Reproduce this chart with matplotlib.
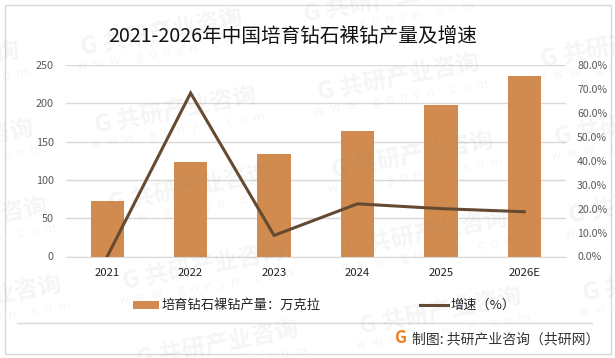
#!/usr/bin/env python3
import matplotlib
matplotlib.use("Agg")
import matplotlib.pyplot as plt
from matplotlib.patches import Rectangle
from matplotlib.lines import Line2D

plt.rcParams["font.family"] = ["Noto Sans CJK SC", "DejaVu Sans"]

W, H = 615, 358

categories = ["2021", "2022", "2023", "2024", "2025", "2026E"]
output_values = [72, 123, 133.5, 164, 198, 236]
growth_values = [0.0, 68.3, 8.8, 22.0, 20.0, 18.7]
left_ticks = [0, 50, 100, 150, 200, 250]
right_ticks = [0, 10, 20, 30, 40, 50, 60, 70, 80]

BAR = "#d18b4f"
LINE = "#654a32"
GRID = "#d9d9d9"
TICK = "#595959"

fig = plt.figure(figsize=(W / 100, H / 100), dpi=100)
ax = fig.add_axes([65.5 / W, 1 - 256.5 / H, 500.5 / W, 191.5 / H])

x = list(range(len(categories)))
ax.bar(x, output_values, width=0.4, color=BAR, zorder=2)
ax.set_xlim(-0.5, 5.5)
ax.set_ylim(0, 250)
ax.set_yticks(left_ticks)
ax.set_xticks(x)
ax.set_xticklabels(categories)
ax.grid(axis="y", color=GRID, lw=1, zorder=0)
ax.set_axisbelow(True)
ax.tick_params(axis="y", length=0, labelsize=7.8, labelcolor=TICK, pad=8.5)
ax.tick_params(axis="x", length=0, labelsize=8.2, labelcolor="#222222", pad=8)
for s in ["top", "left", "right"]:
    ax.spines[s].set_visible(False)
ax.spines["bottom"].set_color(GRID)

ax2 = ax.twinx()
ax2.plot(x, growth_values, color=LINE, lw=2.2, solid_joinstyle="miter", zorder=3)
ax2.set_ylim(0, 80)
ax2.set_yticks(right_ticks)
ax2.set_yticklabels(["%.1f%%" % t for t in right_ticks])
ax2.tick_params(axis="y", length=0, labelsize=7.6, labelcolor=TICK, pad=8)
for s in ax2.spines.values():
    s.set_visible(False)

fig.text(292.5 / W, 1 - 37 / H, "2021-2026年中国培育钻石裸钻产量及增速", ha="center", va="center",
         fontsize=14.1, color="#111111")

# legend
fig.add_artist(Rectangle((133 / W, 1 - 309 / H), 26 / W, 8 / H, transform=fig.transFigure, color=BAR, lw=0))
fig.text(161 / W, 1 - 305 / H, "培育钻石裸钻产量：万克拉", va="center", fontsize=9.5, color="#222222")
fig.add_artist(Line2D([420 / W, 448 / W], [1 - 305 / H] * 2, color=LINE, lw=2.2))
fig.text(450 / W, 1 - 305 / H, "增速（%）", va="center", fontsize=9.5, color="#222222")

# frame and footer
fig.add_artist(Rectangle((4.5 / W, 1 - 353.5 / H), 606 / W, 349 / H, transform=fig.transFigure,
                         fill=False, ec="#d9d9d9", lw=1))
fig.add_artist(Line2D([17 / W, 592 / W], [1 - 322.5 / H] * 2, color="#d9d9d9", lw=1))

fig.text(400.5 / W, 1 - 338 / H, "G", ha="center", va="center", fontsize=12, weight="bold", color="#f07f1e")
fig.text(412 / W, 1 - 339 / H, "制图: 共研产业咨询（共研网）", va="center", fontsize=10, color="#333333")

# watermark lattice
for col in range(-1, 4):
    for row in range(-1, 7):
        cx = 162 + col * 223 + row * 14
        cy = 33 + row * 78 - col * 33
        if cx < -85 or cx > W + 85 or cy < -15 or cy > H + 15:
            continue
        fig.text(cx / W, 1 - cy / H, "G 共研产业咨询", rotation=11, rotation_mode="anchor", ha="center", va="center",
                 fontsize=17, weight="bold", color="#808080", alpha=0.08, zorder=5)
        fig.text((cx + 2) / W, 1 - (cy + 20) / H, "w  w  w  .  g  o  n  y  n  .  c  o  m", rotation=9,
                 rotation_mode="anchor", ha="center", va="center", fontsize=9.5, color="#808080", alpha=0.08, zorder=5)

fig.savefig("out.png", dpi=100)
